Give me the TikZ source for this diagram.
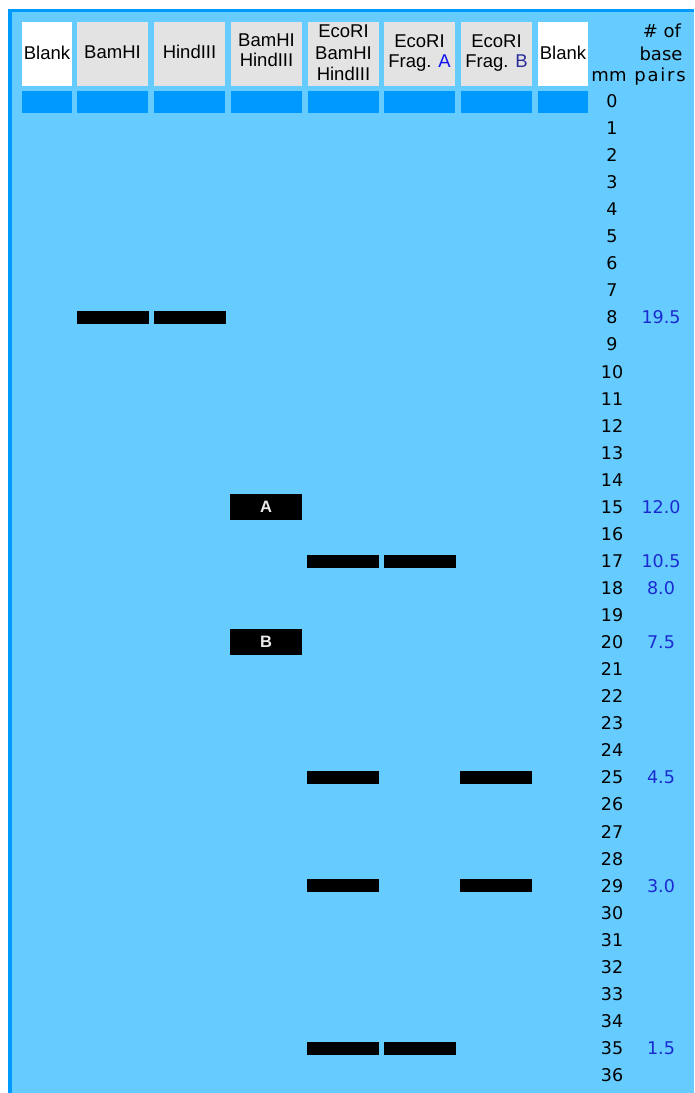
\documentclass[tikz,border=0pt]{standalone}
\usepackage{fontspec}
\setmainfont{Liberation Sans}
\newfontfamily\numfont{DejaVu Sans}
\definecolor{gelblue}{HTML}{66CCFF}
\definecolor{wellblue}{HTML}{0099FF}
\definecolor{hdrgray}{HTML}{E3E3E3}
\definecolor{bpblue}{HTML}{1A2AD0}
\definecolor{fraga}{HTML}{1010F0}
\definecolor{fragb}{HTML}{2A2A99}
\begin{document}
\begin{tikzpicture}[x=1pt,y=-1pt,
  hdrbox/.style={draw=none,fill=hdrgray,minimum width=71pt,minimum height=64pt,inner sep=0pt,outer sep=0pt},
  blankbox/.style={hdrbox,fill=white,minimum width=50pt},
  hdrtxt/.style={inner sep=0pt,align=center,text depth=0pt,font=\fontsize{18.5}{21.5}\selectfont},
  well/.style={fill=wellblue,minimum width=71pt,minimum height=22pt,inner sep=0pt,outer sep=0pt},
  band/.style={fill=black,minimum width=72pt,minimum height=13pt,inner sep=0pt,outer sep=0pt},
  bigband/.style={fill=black,minimum width=72pt,minimum height=26pt,inner sep=0pt,outer sep=0pt,
     text=white!92!black,font=\bfseries\fontsize{16.5}{16.5}\selectfont},
  mmlab/.style={inner sep=0pt,anchor=base,font=\numfont\fontsize{17.5}{17.5}\selectfont},
  bplab/.style={inner sep=0pt,anchor=base,text=bpblue,font=\numfont\fontsize{17.5}{17.5}\selectfont},
  colhead/.style={inner sep=0pt,anchor=base,font=\numfont\fontsize{18}{18}\selectfont}
]
\useasboundingbox (0,0) rectangle (694,1093);
\fill[wellblue] (8,9) rectangle (694,1093);
\fill[gelblue] (12,12) rectangle (694,1093);

% header boxes
\node[blankbox] (h1) at (47,54) {};
\node[hdrbox] (h2) at (112.5,54) {};
\node[hdrbox] (h3) at (189.5,54) {};
\node[hdrbox] (h4) at (266.5,54) {};
\node[hdrbox] (h5) at (343.5,54) {};
\node[hdrbox] (h6) at (419.5,54) {};
\node[hdrbox] (h7) at (496.5,54) {};
\node[blankbox] (h8) at (563,54) {};

% header texts
\node[hdrtxt] (t1) at (47,53) {Blank};
\node[hdrtxt] (t2) at (112.5,52) {BamHI};
\node[hdrtxt] (t3) at (189.5,52) {HindIII};
\node[hdrtxt,font=\fontsize{18.5}{20}\selectfont] (t4) at (266.5,50) {BamHI\\HindIII};
\node[hdrtxt] (t5) at (343.5,53) {EcoRI\\BamHI\\HindIII};
\node[hdrtxt,font=\fontsize{18.5}{20}\selectfont] (t6) at (419.5,51.5) {EcoRI\\Frag. \textcolor{fraga}{A}};
\node[hdrtxt,font=\fontsize{18.5}{20}\selectfont] (t7) at (496.5,51.5) {EcoRI\\Frag. \textcolor{fragb}{B}};
\node[hdrtxt] (t8) at (563,53) {Blank};

% wells
\node[well,minimum width=50pt] (w1) at (47,102) {};
\node[well] (w2) at (112.5,102) {};
\node[well] (w3) at (189.5,102) {};
\node[well] (w4) at (266.5,102) {};
\node[well] (w5) at (343.5,102) {};
\node[well] (w6) at (419.5,102) {};
\node[well] (w7) at (496.5,102) {};
\node[well,minimum width=50pt] (w8) at (563,102) {};

% column headings
\node[colhead] (hof) at (662,37) {\# of};
\node[colhead] (hbase) at (661,60) {base};
\node[colhead] (hpairs) at (660,81) {\addfontfeature{LetterSpace=10}pairs};
\node[colhead] (hmm) at (609,81) {mm};

% mm scale
\foreach \k in {0,...,36}{
  \node[mmlab] (mm\k) at (612,{101+27.06*\k+6.4}) {\k};
}

% base pair values
\foreach \k/\v in {8/19.5,15/12.0,17/10.5,18/8.0,20/7.5,25/4.5,29/3.0,35/1.5}{
  \node[bplab] (bp\k) at (661,{101+27.06*\k+6.4}) {\v};
}

% bands
\node[band] (b2a) at (113,{101+27.06*8}) {};
\node[band] (b3a) at (190,{101+27.06*8}) {};
\node[bigband] (bA) at (266,{101+27.06*15}) {A};
\node[bigband] (bB) at (266,{101+27.06*20}) {B};
\node[band] (b5a) at (343,{101+27.06*17}) {};
\node[band] (b6a) at (420,{101+27.06*17}) {};
\node[band] (b5b) at (343,{101+27.06*25}) {};
\node[band] (b7a) at (496,{101+27.06*25}) {};
\node[band] (b5c) at (343,{101+27.06*29}) {};
\node[band] (b7b) at (496,{101+27.06*29}) {};
\node[band] (b5d) at (343,{101+27.06*35}) {};
\node[band] (b6b) at (420,{101+27.06*35}) {};
\end{tikzpicture}
\end{document}
